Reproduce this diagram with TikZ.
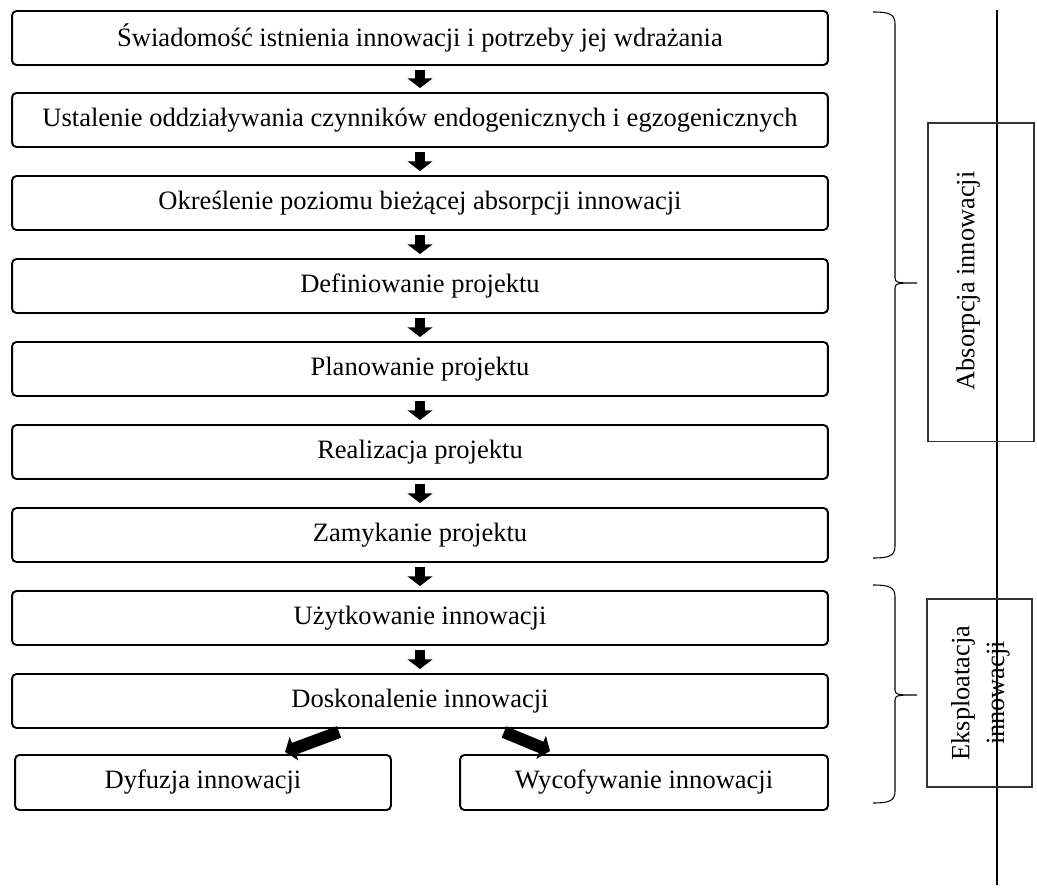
\documentclass[tikz,border=0pt]{standalone}
\usepackage{fontspec}
\setmainfont{Liberation Serif}
\usepackage{tikz}
\usetikzlibrary{arrows.meta,calc}

\begin{document}
\begin{tikzpicture}[x=0.02cm,y=-0.02cm,
        etap/.style={draw,rounded corners=2.5pt,line width=1.1pt,
                     minimum width=16.32cm,minimum height=1.08cm,
                     font=\fontsize{15.1}{17}\selectfont,inner sep=0pt},
        strz/.style={line width=6.2pt,-{Triangle[length=5.5pt,width=14pt]}},
        ramka/.style={draw=black!80,line width=0.6pt},
        napis/.style={rotate=90,font=\fontsize{15}{19.8}\selectfont,align=center},
        klam/.style={line width=0.6pt}]

        \useasboundingbox (0,0) rectangle (1037,891);

        \node[etap] (e1) at (420,38)  {Świadomość istnienia innowacji i potrzeby jej wdrażania};
        \node[etap] (e2) at (420,120) {Ustalenie oddziaływania czynników endogenicznych i egzogenicznych};
        \node[etap] (e3) at (420,203) {Określenie poziomu bieżącej absorpcji innowacji};
        \node[etap] (e4) at (420,286) {Definiowanie projektu};
        \node[etap] (e5) at (420,369) {Planowanie projektu};
        \node[etap] (e6) at (420,452) {Realizacja projektu};
        \node[etap] (e7) at (420,535) {Zamykanie projektu};
        \node[etap] (e8) at (420,618) {Użytkowanie innowacji};
        \node[etap] (e9) at (420,701) {Doskonalenie innowacji};
        \node[etap,minimum width=7.52cm,minimum height=1.1cm] (dyf) at (203,782.5) {Dyfuzja innowacji};
        \node[etap,minimum width=7.36cm,minimum height=1.1cm] (wyc) at (644,782.5) {Wycofywanie innowacji};

        \foreach \a/\b in {e1/e2,e2/e3,e3/e4,e4/e5,e5/e6,
                            e6/e7,e7/e8,e8/e9}{
          \draw[strz] ($(\a.south)+(0,4)$) -- ($(\b.north)-(0,4)$);
        }
        \draw[strz,line width=7pt] ($(e9.south)+(-81,3)$) -- ($(dyf.north)+(82,-2)$);
        \draw[strz,line width=7pt] ($(e9.south)+(84,3)$) -- ($(wyc.north)+(-94,-3)$);

        % klamry i etykiety
        \foreach \g/\s/\d in {12/283/558,585/695/803}{
          \draw[klam] (873,\g) .. controls (889,\g) and (895,\g+2) .. (895,\g+12)
                      -- (895,\s-5) .. controls (895,\s) and (899,\s) .. (917,\s)
                      .. controls (899,\s) and (895,\s) .. (895,\s+5)
                      -- (895,\d-12) .. controls (895,\d-2) and (889,\d) .. (873,\d);
        }
        \draw[line width=0.8pt] (997,10) -- (997,885);
        \node[ramka,minimum width=2.12cm,minimum height=6.38cm] (abs) at (981,282.5) {};
        \node[napis] (abst) at (968,281) {Absorpcja innowacji};
        \node[ramka,minimum width=2.1cm,minimum height=3.76cm] (eks) at (979.5,693) {};
        \node[napis] (ekst) at (980.5,693) {Eksploatacja\\innowacji};
      \end{tikzpicture}
\end{document}
